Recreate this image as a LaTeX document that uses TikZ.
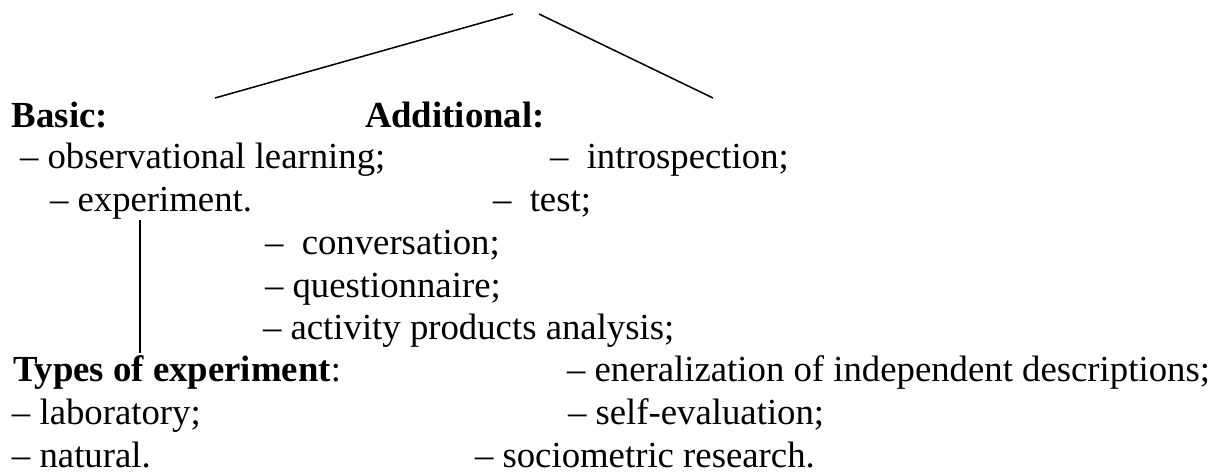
\documentclass[tikz,border=0pt]{standalone}
\usepackage{fontspec}
\setmainfont{Liberation Serif}
\begin{document}
\begin{tikzpicture}[x=1pt,y=1pt,
  txt/.style={anchor=base west,inner sep=0pt,outer sep=0pt,
    font=\fontsize{36.75}{40}\selectfont},
  head/.style={txt,font=\fontsize{36.75}{40}\selectfont\bfseries},
  branch/.style={line width=1.5pt}]
\useasboundingbox (0,0) rectangle (1227,475);

% headings
\node[head] (basic) at (12,348) {Basic:};
\node[head] (additional) at (365,348) {Additional:};

% first block of methods
\node[txt] (observ) at (20,306) {– observational learning;};
\node[txt] (intro) at (550,306) {–\ \ introspection;};
\node[txt] (exper) at (50,264) {– experiment.};
\node[txt] (test) at (493,264) {–\ \ test;};
\node[txt] (conv) at (265,221) {–\ \ conversation;};
\node[txt] (quest) at (265,178) {– questionnaire;};
\node[txt] (activ) at (263,136) {– activity products analysis;};

% types of experiment and remaining methods
\node[txt] (types) at (13,94) {\textbf{Types of experiment}:};
\node[txt] (gener) at (567,94) {– eneralization of independent descriptions;};
\node[txt] (lab) at (12,51) {– laboratory;};
\node[txt] (selfev) at (568,51) {– self-evaluation;};
\node[txt] (natural) at (12,8) {– natural.};
\node[txt] (socio) at (475,8) {– sociometric research.};

% branching lines
\coordinate (apexL) at (513,461);
\coordinate (apexR) at (539,461);
\coordinate (footL) at (215,377);
\coordinate (footR) at (713,377);
\draw[branch] (apexL) -- (footL);
\draw[branch] (apexR) -- (footR);

\coordinate (stemTop) at (140,255);
\coordinate (stemBot) at (140,122);
\draw[branch] (stemTop) -- (stemBot);
\end{tikzpicture}
\end{document}
